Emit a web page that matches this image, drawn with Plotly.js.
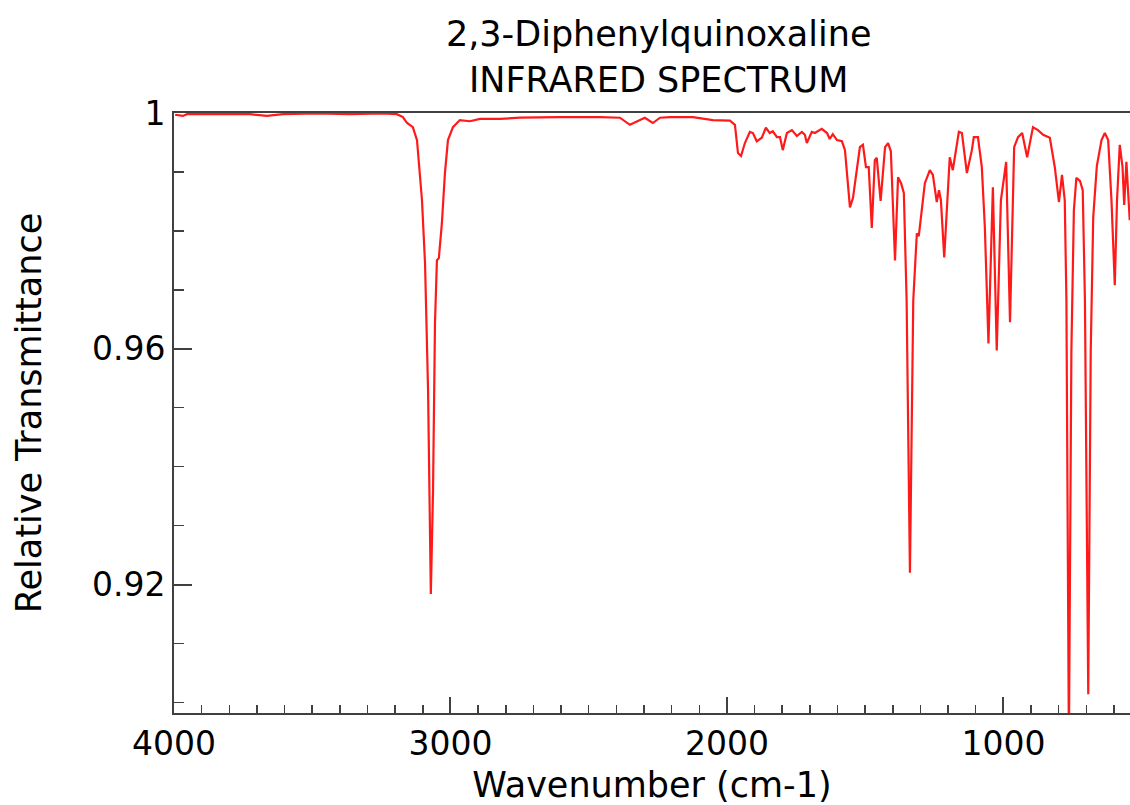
<!DOCTYPE html>
<html>
<head>
<meta charset="utf-8">
<script src="https://cdn.plot.ly/plotly-3.0.1.min.js"></script>
<style>
html,body{margin:0;padding:0;background:#fff;overflow:hidden;}
#chart{width:1130px;height:805px;}
</style>
</head>
<body>
<div id="chart"></div>
<script>
// Wavenumber (cm-1)
const wavenumber = [3996,3968,3953,3845,3725,3664,3606,3483,3364,3244,3194,3172,3157,3136,3121,3103,3092,3081,3074,3071,3063,3056,3049,3042,3031,3020,3009,2991,2966,2930,2893,2821,2749,2676,2604,2459,2387,2351,2326,2297,2268,2242,2206,2123,2051,1989,1971,1960,1949,1935,1917,1906,1892,1874,1859,1845,1834,1819,1808,1798,1783,1765,1747,1729,1718,1711,1693,1682,1657,1638,1628,1617,1602,1584,1573,1562,1555,1544,1530,1519,1508,1497,1487,1476,1465,1458,1444,1428,1417,1407,1392,1381,1370,1360,1350,1338,1326,1313,1306,1291,1284,1266,1255,1241,1233,1226,1214,1194,1183,1161,1150,1132,1114,1107,1092,1078,1067,1054,1038,1024,1009,990,976,961,947,932,914,893,875,856,832,814,799,788,778,772,763,754,745,736,723,713,705,693,684,675,662,645,633,621,609,597,589,579,569,563,555,543];
// Relative transmittance
const transmittance = [0.9997,0.9995,0.9998,0.9998,0.9998,0.9995,0.9998,0.99995,0.9998,0.99995,0.9998,0.9993,0.9983,0.9976,0.9954,0.9852,0.9745,0.9529,0.9303,0.9184,0.9359,0.9643,0.9750,0.9754,0.9813,0.9898,0.9954,0.9976,0.9988,0.9986,0.9990,0.9990,0.9992,0.9993,0.9993,0.9993,0.9992,0.9980,0.9985,0.9992,0.9983,0.9992,0.9993,0.9993,0.9988,0.9987,0.9980,0.9932,0.9927,0.9949,0.9968,0.9966,0.9952,0.9958,0.9975,0.9966,0.9969,0.9959,0.9959,0.9937,0.9966,0.9971,0.9961,0.9968,0.9963,0.9949,0.9968,0.9966,0.9973,0.9966,0.9956,0.9964,0.9954,0.9952,0.9937,0.9881,0.9840,0.9856,0.9908,0.9942,0.9946,0.9908,0.9908,0.9805,0.9920,0.9924,0.9851,0.9942,0.9949,0.9935,0.9750,0.9891,0.9881,0.9864,0.9682,0.9220,0.9682,0.9796,0.9791,0.9852,0.9881,0.9903,0.9895,0.9849,0.9869,0.9852,0.9755,0.9925,0.9903,0.9968,0.9966,0.9898,0.9937,0.9959,0.9959,0.9908,0.9806,0.9609,0.9874,0.9597,0.9852,0.9917,0.9645,0.9942,0.9959,0.9966,0.9925,0.9976,0.9971,0.9963,0.9958,0.9908,0.9849,0.9895,0.9852,0.9682,0.8930,0.9597,0.9835,0.9890,0.9885,0.9869,0.9682,0.9014,0.9597,0.9823,0.9910,0.9954,0.9966,0.9954,0.9852,0.9708,0.9852,0.9946,0.9908,0.9844,0.9917,0.9818];

const chartTitle = '2,3-Diphenylquinoxaline<br>INFRARED SPECTRUM';
const xTitle = 'Wavenumber (cm-1)';
const yTitle = 'Relative Transmittance';

const FONT = 'DejaVu Sans, sans-serif';
const AX = '#404040';

const trace = {
  x: wavenumber,
  y: transmittance,
  type: 'scatter',
  mode: 'lines',
  line: {color: '#ff1a1a', width: 2.2},
  hoverinfo: 'x+y',
  showlegend: false
};

const layout = {
  width: 1130,
  height: 805,
  margin: {l: 174, r: 0, t: 113, b: 92},
  paper_bgcolor: '#ffffff',
  plot_bgcolor: '#ffffff',
  font: {family: FONT, color: '#000000'},
  title: {
    text: chartTitle,
    font: {family: FONT, size: 35, color: '#000000'},
    xref: 'paper', x: 0.507, xanchor: 'center',
    yref: 'container', y: 1 - 46/805, yanchor: 'middle'
  },
  xaxis: {
    range: [4000, 542],
    showline: true, linecolor: AX, linewidth: 2, mirror: true,
    ticks: 'inside', ticklen: 16, tickwidth: 2, tickcolor: AX,
    tick0: 0, dtick: 1000,
    minor: {ticks: 'inside', dtick: 100, ticklen: 8, tickwidth: 1.5, tickcolor: AX, showgrid: false},
    showgrid: false, zeroline: false,
    tickfont: {family: FONT, size: 33, color: '#000000'},
    title: {text: xTitle, font: {family: FONT, size: 35, color: '#000000'}, standoff: 14}
  },
  yaxis: {
    range: [0.8982, 1.0],
    showline: true, linecolor: AX, linewidth: 2, mirror: false,
    ticks: 'inside', ticklen: 18, tickwidth: 2, tickcolor: AX,
    tick0: 0, dtick: 0.04,
    minor: {ticks: 'inside', dtick: 0.01, ticklen: 10, tickwidth: 1.5, tickcolor: AX, showgrid: false},
    showgrid: false, zeroline: false,
    tickfont: {family: FONT, size: 33, color: '#000000'},
    title: {text: yTitle, font: {family: FONT, size: 35, color: '#000000'}, standoff: 40}
  }
};

Plotly.newPlot('chart', [trace], layout, {displayModeBar: false, staticPlot: true});
</script>
</body>
</html>
